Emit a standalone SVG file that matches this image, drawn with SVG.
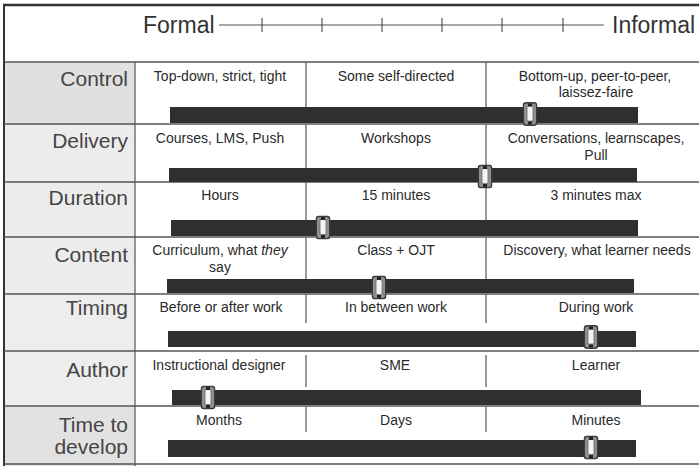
<svg xmlns="http://www.w3.org/2000/svg" xmlns:xlink="http://www.w3.org/1999/xlink" width="699" height="466" viewBox="0 0 699 466">
  <style>
    .label { font-family: "Liberation Sans", Arial, sans-serif; font-size: 21px; fill: #454545; text-anchor: end; }
    .cell { font-family: "Liberation Sans", Arial, sans-serif; font-size: 14px; fill: #2a2a2a; text-anchor: middle; }
    .scale { font-family: "Liberation Sans", Arial, sans-serif; font-size: 23px; fill: #333; }
    .rowline { stroke: #555; stroke-width: 1.5; fill: none; }
    .divider { stroke: #555; stroke-width: 1.2; }
    .bar { fill: #2f2f2f; }
    .tick { stroke: #555; stroke-width: 1.2; }
  </style>
  <defs>
    <!-- slider knob, 15 x 24 -->
    <symbol id="thumb" viewBox="0 0 15 24" width="15" height="24">
      <rect x="0.75" y="0.75" width="13.5" height="22.5" rx="3" fill="#8e8e8e" stroke="#3a3a3a" stroke-width="1.5"/>
      <rect x="4.5" y="4" width="6" height="15" rx="1.5" fill="#f4f4f4" stroke="#6a6a6a" stroke-width="0.8"/>
      <rect x="5.5" y="1.5" width="4" height="3" fill="#222"/>
      <rect x="5.5" y="19.5" width="4" height="3" fill="#222"/>
    </symbol>
  </defs>

  <rect x="0" y="0" width="699" height="466" fill="#fff"/>

  <!-- label column backgrounds -->
  <g id="label-bg">
    <rect x="4" y="62" width="131" height="62" fill="#e0e0e0"/>
    <rect x="4" y="124" width="131" height="58" fill="#ececec"/>
    <rect x="4" y="182" width="131" height="55" fill="#ececec"/>
    <rect x="4" y="237" width="131" height="57" fill="#ececec"/>
    <rect x="4" y="294" width="131" height="57" fill="#ededed"/>
    <rect x="4" y="351" width="131" height="55" fill="#ededed"/>
    <rect x="4" y="406" width="131" height="60" fill="#e2e2e2"/>
  </g>

  <!-- table grid -->
  <g id="grid">
    <line x1="3" y1="5" x2="699" y2="5" stroke="#333" stroke-width="2.5"/>
    <line x1="4" y1="4" x2="4" y2="466" stroke="#333" stroke-width="2"/>
    <line x1="135" y1="62" x2="135" y2="466" class="divider"/>
    <line x1="4" y1="62" x2="699" y2="62" class="rowline"/>
    <line x1="4" y1="124" x2="699" y2="124" class="rowline"/>
    <line x1="4" y1="182" x2="699" y2="182" class="rowline"/>
    <line x1="4" y1="237" x2="699" y2="237" class="rowline"/>
    <line x1="4" y1="294" x2="699" y2="294" class="rowline"/>
    <line x1="4" y1="351" x2="699" y2="351" class="rowline"/>
    <line x1="4" y1="406" x2="699" y2="406" class="rowline"/>
    <line x1="4" y1="464" x2="699" y2="464" class="rowline"/>
    <!-- column dividers, per row -->
    <line x1="306" y1="62" x2="306" y2="107" class="divider"/>
    <line x1="486" y1="62" x2="486" y2="107" class="divider"/>
    <line x1="306" y1="124" x2="306" y2="168" class="divider"/>
    <line x1="486" y1="124" x2="486" y2="168" class="divider"/>
    <line x1="306" y1="182" x2="306" y2="220" class="divider"/>
    <line x1="486" y1="182" x2="486" y2="220" class="divider"/>
    <line x1="306" y1="237" x2="306" y2="279" class="divider"/>
    <line x1="486" y1="237" x2="486" y2="279" class="divider"/>
    <line x1="306" y1="294" x2="306" y2="323" class="divider"/>
    <line x1="486" y1="294" x2="486" y2="323" class="divider"/>
    <line x1="306" y1="355" x2="306" y2="387" class="divider"/>
    <line x1="486" y1="355" x2="486" y2="387" class="divider"/>
    <line x1="306" y1="407" x2="306" y2="432" class="divider"/>
    <line x1="486" y1="407" x2="486" y2="432" class="divider"/>
  </g>

  <!-- Formal / Informal scale -->
  <g id="scale">
    <text x="143" y="33" class="scale">Formal</text>
    <line x1="219" y1="25" x2="604" y2="25" stroke="#555" stroke-width="1.2"/>
    <line x1="262" y1="18" x2="262" y2="32" class="tick"/>
    <line x1="322" y1="18" x2="322" y2="32" class="tick"/>
    <line x1="382" y1="18" x2="382" y2="32" class="tick"/>
    <line x1="442" y1="18" x2="442" y2="32" class="tick"/>
    <line x1="502" y1="18" x2="502" y2="32" class="tick"/>
    <line x1="563" y1="18" x2="563" y2="32" class="tick"/>
    <text x="612" y="33" class="scale">Informal</text>
  </g>

  <g id="row-control">
    <text x="128" y="86" class="label">Control</text>
    <text x="220" y="81" class="cell">Top-down, strict, tight</text>
    <text x="396" y="81" class="cell">Some self-directed</text>
    <text x="595" y="81" class="cell">Bottom-up, peer-to-peer,</text>
    <text x="596" y="97" class="cell">laissez-faire</text>
    <rect x="170" y="107" width="468" height="16" class="bar"/>
    <use href="#thumb" xlink:href="#thumb" x="522.5" y="102"/>
  </g>

  <g id="row-delivery">
    <text x="128" y="148" class="label">Delivery</text>
    <text x="220" y="143" class="cell">Courses, LMS, Push</text>
    <text x="396" y="143" class="cell">Workshops</text>
    <text x="596" y="143" class="cell">Conversations, learnscapes,</text>
    <text x="596" y="160" class="cell">Pull</text>
    <rect x="169" y="168" width="468" height="14" class="bar"/>
    <use href="#thumb" xlink:href="#thumb" x="477.5" y="164.5"/>
  </g>

  <g id="row-duration">
    <text x="128" y="205" class="label">Duration</text>
    <text x="220" y="200" class="cell">Hours</text>
    <text x="396" y="200" class="cell">15 minutes</text>
    <text x="596" y="200" class="cell">3 minutes max</text>
    <rect x="171" y="220" width="467" height="16" class="bar"/>
    <use href="#thumb" xlink:href="#thumb" x="315.5" y="215.5"/>
  </g>

  <g id="row-content">
    <text x="128" y="262" class="label">Content</text>
    <text x="220" y="255" class="cell">Curriculum, what <tspan font-style="italic">they</tspan></text>
    <text x="220" y="272" class="cell">say</text>
    <text x="396" y="255" class="cell">Class + OJT</text>
    <text x="597" y="255" class="cell">Discovery, what learner needs</text>
    <rect x="167" y="279" width="467" height="14" class="bar"/>
    <use href="#thumb" xlink:href="#thumb" x="371.5" y="275.5"/>
  </g>

  <g id="row-timing">
    <text x="128" y="315" class="label">Timing</text>
    <text x="221" y="312" class="cell">Before or after work</text>
    <text x="396" y="312" class="cell">In between work</text>
    <text x="596" y="312" class="cell">During work</text>
    <rect x="168" y="331" width="468" height="16" class="bar"/>
    <use href="#thumb" xlink:href="#thumb" x="583.5" y="325"/>
  </g>

  <g id="row-author">
    <text x="128" y="377" class="label">Author</text>
    <text x="219" y="370" class="cell">Instructional designer</text>
    <text x="395" y="370" class="cell">SME</text>
    <text x="596" y="370" class="cell">Learner</text>
    <rect x="172" y="390" width="469" height="15" class="bar"/>
    <use href="#thumb" xlink:href="#thumb" x="200.5" y="385.5"/>
  </g>

  <g id="row-time-to-develop">
    <text x="128" y="432" class="label">Time to</text>
    <text x="128" y="454" class="label">develop</text>
    <text x="219" y="425" class="cell">Months</text>
    <text x="396" y="425" class="cell">Days</text>
    <text x="596" y="425" class="cell">Minutes</text>
    <rect x="168" y="440" width="468" height="17" class="bar"/>
    <use href="#thumb" xlink:href="#thumb" x="583.5" y="435.5"/>
  </g>
</svg>
